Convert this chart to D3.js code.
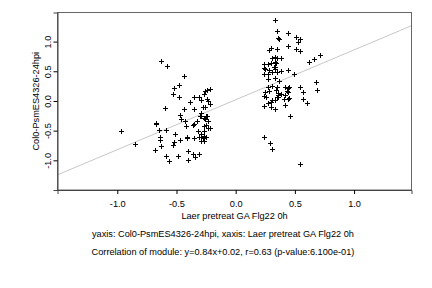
<!DOCTYPE html>
<html>
<head>
<meta charset="utf-8">
<script src="https://cdn.jsdelivr.net/npm/d3@7"></script>
<style>
  body { margin: 0; background: #fff; }
  svg { display: block; }
</style>
</head>
<body>
<div id="chart"></div>
<script>
// module scatter: Laer pretreat GA Flg22 0h vs Col0-PsmES4326-24hpi
const xTicks = [-1.0, -0.5, 0.0, 0.5, 1.0];
const yTicks = [-1.0, -0.5, 0.0, 0.5, 1.0];
const slope = 0.84, intercept = 0.02;

const xLabel = "Laer pretreat GA Flg22 0h";
const yLabel = "Col0-PsmES4326-24hpi";
const subtitle = "yaxis: Col0-PsmES4326-24hpi, xaxis: Laer pretreat GA Flg22 0h";
const caption = "Correlation of module: y=0.84x+0.02, r=0.63 (p-value:6.100e-01)";

// left group of genes
const xsLeft = [-0.97,-0.85,-0.63,-0.58,-0.44,-0.60,-0.48,-0.52,-0.53,-0.48,
  -0.67,-0.67,-0.65,-0.59,-0.64,-0.64,-0.63,-0.68,-0.59,-0.56,
  -0.51,-0.52,-0.53,-0.49,-0.47,-0.46,-0.47,-0.44,-0.43,-0.42,
  -0.39,-0.35,-0.31,-0.35,-0.41,-0.41,-0.40,-0.40,-0.36,-0.34,
  -0.31,-0.36,-0.35,-0.33,-0.35,-0.32,-0.30,-0.29,-0.27,-0.26,
  -0.24,-0.22,-0.24,-0.23,-0.22,-0.28,-0.26,-0.29,-0.29,-0.27,
  -0.25,-0.24,-0.26,-0.23,-0.25,-0.23,-0.22,-0.27,-0.27,-0.29,
  -0.29,-0.27,-0.25,-0.29,-0.27,-0.28,-0.31];
const ysLeft = [-0.51,-0.73,0.68,0.59,0.42,-0.12,0.27,0.22,0.12,0.06,
  -0.37,-0.39,-0.49,-0.49,-0.61,-0.65,-0.76,-0.83,-0.93,-1.01,
  -0.55,-0.69,-0.75,-0.92,-0.24,-0.31,-0.66,-0.14,-0.33,-0.43,
  -0.02,0.06,0.07,-0.14,-0.60,-0.63,-0.84,-0.99,-0.90,-0.94,
  -0.90,-0.41,-0.39,-0.34,-0.62,-0.50,-0.26,0.02,0.11,0.17,
  0.18,0.20,0.04,0.00,-0.05,-0.11,-0.11,-0.20,-0.25,-0.28,
  -0.26,-0.26,-0.31,-0.33,-0.41,-0.45,-0.46,-0.43,-0.50,-0.55,
  -0.60,-0.59,-0.60,-0.67,-0.67,-0.62,-0.61];

// right group of genes
const xsRight = [0.33,0.35,0.36,0.37,0.44,0.51,0.54,0.53,0.51,0.54,
  0.44,0.28,0.30,0.35,0.24,0.27,0.24,0.25,0.28,0.24,
  0.27,0.27,0.30,0.31,0.33,0.35,0.38,0.33,0.34,0.32,
  0.33,0.33,0.31,0.35,0.38,0.44,0.33,0.37,0.49,0.62,
  0.66,0.71,0.68,0.69,0.54,0.57,0.57,0.60,0.27,0.25,
  0.28,0.31,0.35,0.34,0.36,0.36,0.38,0.35,0.36,0.24,
  0.26,0.31,0.30,0.33,0.27,0.24,0.30,0.33,0.42,0.44,
  0.45,0.43,0.44,0.42,0.44,0.45,0.41,0.42,0.46,0.24,
  0.29,0.31,0.54];
const ysRight = [1.36,1.18,1.06,1.05,1.14,1.08,1.04,1.00,0.87,0.84,
  0.93,0.85,0.89,0.87,0.63,0.63,0.56,0.54,0.52,0.46,
  0.46,0.37,0.64,0.73,0.74,0.73,0.73,0.65,0.64,0.58,
  0.58,0.54,0.48,0.48,0.51,0.52,0.38,0.33,0.46,0.66,
  0.70,0.78,0.32,0.19,0.23,0.15,0.03,-0.03,0.23,0.15,
  0.17,0.25,0.23,0.19,0.13,0.10,0.11,0.07,0.06,0.08,
  0.07,0.02,-0.01,0.01,-0.04,-0.08,-0.11,-0.14,0.23,0.21,
  0.23,0.16,0.15,0.10,0.04,0.05,0.03,-0.07,-0.25,-0.60,
  -0.70,-0.81,-1.06];

const points = xsLeft.map((x, i) => ({x: x, y: ysLeft[i]}))
  .concat(xsRight.map((x, i) => ({x: x, y: ysRight[i]})));

const W = 432, H = 288;
const plot = {left: 57.5, right: 411.5, top: 12.5, bottom: 190};
const fs = 9.2;

const svg = d3.select("#chart").append("svg")
  .attr("width", W).attr("height", H)
  .style("font-family", "'Liberation Sans', Arial, sans-serif");

const x = d3.scaleLinear().domain([-1.505, 1.485]).range([plot.left, plot.right]);
const y = d3.scaleLinear().domain([-1.50, 1.49]).range([plot.bottom, plot.top]);

const fmt = d => d.toFixed(1);

// regression line
svg.append("line")
  .attr("x1", x(-1.505)).attr("y1", y(slope * -1.505 + intercept))
  .attr("x2", x(1.485)).attr("y2", y(slope * 1.485 + intercept))
  .attr("stroke", "#c8c8c8").attr("stroke-width", 1);

// points as plus signs
const s = 2.5;
svg.append("g").selectAll("path")
  .data(points)
  .enter().append("path")
  .attr("d", d => {
    const px = Math.round(x(d.x)) + 0.5, py = Math.round(y(d.y)) + 0.5;
    return `M${px - s},${py}H${px + s}M${px},${py - s}V${py + s}`;
  })
  .attr("stroke", "#000").attr("stroke-width", 1).attr("fill", "none");

// box
svg.append("rect")
  .attr("x", plot.left).attr("y", plot.top)
  .attr("width", plot.right - plot.left).attr("height", plot.bottom - plot.top)
  .attr("fill", "none").attr("stroke", "#666").attr("stroke-width", 1);

// x axis
const xAxis = svg.append("g")
  .attr("transform", `translate(0,${plot.bottom})`)
  .call(d3.axisBottom(x).tickValues(xTicks).tickFormat(fmt).tickSizeOuter(0).tickSize(4).tickPadding(6.5));
xAxis.selectAll("text").attr("font-size", fs).attr("fill", "#000");
xAxis.select(".domain").attr("stroke", "#444");

// y axis
const yAxis = svg.append("g")
  .attr("transform", `translate(${plot.left},0)`)
  .call(d3.axisLeft(y).tickValues(yTicks).tickFormat(fmt).tickSizeOuter(0).tickSize(4));
yAxis.selectAll("text")
  .attr("x", 0).attr("dy", null)
  .attr("transform", "translate(-7,0) rotate(-90)")
  .attr("text-anchor", "middle")
  .attr("font-size", fs).attr("fill", "#000");
yAxis.select(".domain").attr("stroke", "#444");

// labels
const cx = (plot.left + plot.right) / 2;
const noteX = 223;
svg.append("text")
  .attr("x", cx).attr("y", 218.5)
  .attr("text-anchor", "middle").attr("font-size", fs).attr("fill", "#000")
  .text(xLabel);

svg.append("text")
  .attr("transform", `translate(38.5,${(plot.top + plot.bottom) / 2}) rotate(-90)`)
  .attr("text-anchor", "middle").attr("font-size", fs).attr("fill", "#000")
  .text(yLabel);

svg.append("text")
  .attr("x", noteX).attr("y", 236.5)
  .attr("text-anchor", "middle").attr("font-size", fs).attr("fill", "#000")
  .text(subtitle);

svg.append("text")
  .attr("x", noteX).attr("y", 254.5)
  .attr("text-anchor", "middle").attr("font-size", fs).attr("fill", "#000")
  .text(caption);
</script>
</body>
</html>
